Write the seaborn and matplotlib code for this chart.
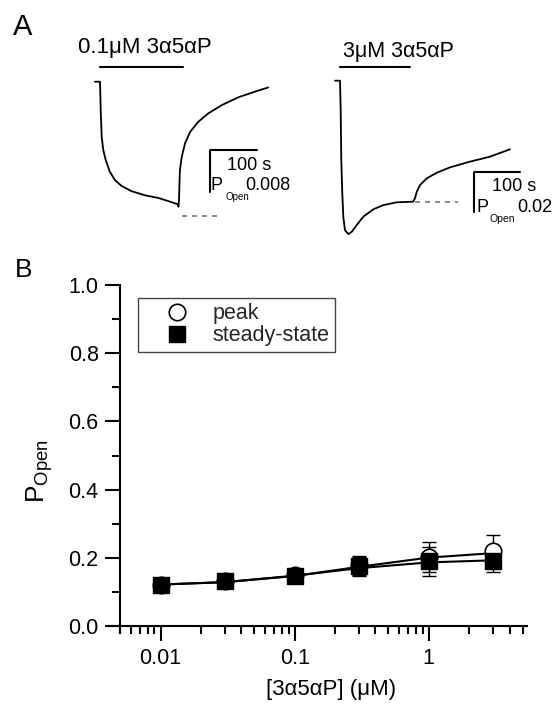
import numpy as np
import pandas as pd
import matplotlib
matplotlib.use('Agg')
import matplotlib.pyplot as plt
import seaborn as sns
from matplotlib.ticker import MultipleLocator, LogLocator, NullFormatter

# Panel A traces: time (s) and P_open change relative to baseline before drug
t_low = [-11, 0, 1.5, 3.6, 7, 12, 21, 32, 46, 67, 96, 124, 145, 165, 167, 168, 170, 174,
         181, 192, 209, 230, 259, 294, 330, 358]
p_low = [0, 0, -0.0054, -0.0106, -0.0131, -0.0150, -0.0173, -0.0189, -0.0200, -0.0210,
         -0.0218, -0.0223, -0.0229, -0.0235, -0.0240, -0.0227, -0.0170, -0.0144, -0.0118,
         -0.0096, -0.0077, -0.0061, -0.0045, -0.0030, -0.0019, -0.0011]
t_high = [-11, 0, 1.5, 2.8, 5, 7.2, 10.9, 18, 26, 36.5, 51, 73, 95, 124, 160, 164, 168,
          175, 190, 212, 241, 284, 328, 372]
p_high = [0, 0, -0.0147, -0.0397, -0.0563, -0.0680, -0.0747, -0.0767, -0.0755, -0.0722,
          -0.0680, -0.0643, -0.0622, -0.0608, -0.0605, -0.0588, -0.0555, -0.0522, -0.0488,
          -0.0460, -0.0433, -0.0405, -0.0380, -0.0343]
app_low = [0, 176]
app_high = [0, 153]
ss_low = -0.0258
ss_high = -0.0605

# Panel B concentration-response
conc = [0.01, 0.03, 0.1, 0.3, 1, 3]
peak_mean = [0.122, 0.131, 0.149, 0.178, 0.203, 0.221]
peak_sem = [0.008, 0.008, 0.010, 0.028, 0.044, 0.046]
ss_mean = [0.122, 0.131, 0.148, 0.176, 0.190, 0.190]
ss_sem = [0.008, 0.008, 0.010, 0.028, 0.043, 0.031]
peak_fit = [0.122, 0.129, 0.147, 0.174, 0.201, 0.214]
ss_fit = [0.122, 0.129, 0.148, 0.170, 0.187, 0.193]

sns.set_style('ticks')
plt.rcParams['font.family'] = ['Liberation Sans', 'DejaVu Sans']
plt.rcParams['mathtext.fontset'] = 'custom'
plt.rcParams['mathtext.rm'] = 'Liberation Sans'
plt.rcParams['mathtext.it'] = 'Liberation Sans:italic'

W, H = 553, 704
fig = plt.figure(figsize=(W / 100, H / 100), dpi=100)


def txt(x, y, s, **kw):
    # place text using pixel coords (origin top-left)
    return fig.text(x / W, 1 - y / H, s, color='black', **kw)


def trace_axes(box, origin, px_per_s, val_per_px):
    x0, y0, x1, y1 = box
    ox, oy = origin
    ax = fig.add_axes([x0 / W, 1 - y1 / H, (x1 - x0) / W, (y1 - y0) / H])
    ax.set_xlim((x0 - ox) / px_per_s, (x1 - ox) / px_per_s)
    ax.set_ylim(-(y1 - oy) * val_per_px, -(y0 - oy) * val_per_px)
    ax.axis('off')
    return ax


# ---- Panel A, left trace (0.1 uM)
sc_low = 0.008 / 41.7
axL = trace_axes((80, 30, 300, 240), (100, 81.7), 0.47, sc_low)
sns.lineplot(x=t_low, y=p_low, ax=axL, color='black', lw=1.3, sort=False, estimator=None)
axL.plot(app_low, [15 * sc_low] * 2, color='black', lw=1.5)
axL.plot([174, 259], [ss_low] * 2, color='#777777', lw=1.2, ls=(0, (3, 3)))
axL.plot([334, 234, 234], [-0.0131, -0.0131, -0.0211], color='black', lw=1.5)

# ---- Panel A, right trace (3 uM)
sc_high = 0.0005
axR = trace_axes((320, 30, 553, 240), (340, 80.7), 0.457, sc_high)
sns.lineplot(x=t_high, y=p_high, ax=axR, color='black', lw=1.3, sort=False, estimator=None)
axR.plot(app_high, [13.4 * sc_high] * 2, color='black', lw=1.5)
axR.plot([164, 259], [ss_high] * 2, color='#777777', lw=1.2, ls=(0, (3, 3)))
axR.plot([394, 294, 294], [-0.0455, -0.0455, -0.0655], color='black', lw=1.5)

txt(13, 35, 'A', fontsize=21, va='baseline')
txt(145, 53, '0.1\u03bcM 3\u03b15\u03b1P', fontsize=16, ha='center', va='baseline')
txt(398.5, 57, '3\u03bcM 3\u03b15\u03b1P', fontsize=15.5, ha='center', va='baseline')

txt(227, 166, '100 s', fontsize=13, va='center')
txt(211, 190, 'P', fontsize=13, va='baseline')
txt(225, 197, 'Open', fontsize=7, va='center')
txt(245, 190, '0.008', fontsize=13, va='baseline')

txt(492, 186.5, '100 s', fontsize=13, va='center')
txt(477, 212, 'P', fontsize=13, va='baseline')
txt(490, 219, 'Open', fontsize=7.5, va='center')
txt(517, 212, '0.02', fontsize=13, va='baseline')

# ---- Panel B
xl, xr, yt, yb = 108, 527, 285, 633
axB = fig.add_axes([xl / W, 1 - yb / H, (xr - xl) / W, (yb - yt) / H])
axB.set_xscale('log')
axB.set_xlim(0.00405, 5.4)
axB.set_ylim(-0.02, 1.0)

sns.lineplot(x=conc, y=peak_fit, ax=axB, color='black', lw=1.5, legend=False)
sns.lineplot(x=conc, y=ss_fit, ax=axB, color='black', lw=1.5, legend=False)
axB.errorbar(conc, peak_mean, yerr=peak_sem, fmt='none', ecolor='black', elinewidth=1,
             capsize=5, capthick=1, zorder=3)
axB.errorbar(conc, ss_mean, yerr=ss_sem, fmt='none', ecolor='black', elinewidth=1,
             capsize=5, capthick=1, zorder=3)
sns.scatterplot(x=conc, y=peak_mean, ax=axB, marker='o', s=140, color='white',
                edgecolor='black', linewidth=1.2, label='peak', zorder=4)
sns.scatterplot(x=conc, y=ss_mean, ax=axB, marker='s', s=120, color='black',
                edgecolor='black', linewidth=1, label='steady-state', zorder=5)

axB.spines[['top', 'right']].set_visible(False)
axB.spines['left'].set_position(('data', 0.005))
axB.spines['bottom'].set_position(('data', 0))
for s in ['left', 'bottom']:
    axB.spines[s].set_linewidth(1.5)
    axB.spines[s].set_color('black')

axB.set_yticks([0, 0.2, 0.4, 0.6, 0.8, 1.0], labels=['0.0', '0.2', '0.4', '0.6', '0.8', '1.0'])
axB.yaxis.set_minor_locator(MultipleLocator(0.1))
axB.set_xticks([0.01, 0.1, 1], labels=['0.01', '0.1', '1'])
axB.xaxis.set_minor_locator(LogLocator(base=10, subs=np.arange(2, 10)))
axB.xaxis.set_minor_formatter(NullFormatter())
axB.tick_params(which='major', direction='out', length=10.5, width=1.5, labelsize=15.5,
                pad=5, color='black', labelcolor='black')
axB.tick_params(which='minor', direction='out', length=6, width=1.5, color='black')

leg = axB.legend(loc='upper left', bbox_to_anchor=(138 / W, 1 - 298 / H),
                 bbox_transform=fig.transFigure, borderaxespad=0, frameon=True,
                 fancybox=False, edgecolor='#444444', framealpha=1, fontsize=15.5,
                 borderpad=0.25, handlelength=3.1, handletextpad=0.1, labelspacing=0.05,
                 scatteryoffsets=[0.5])
leg.get_frame().set_linewidth(1.0)

txt(15, 277, 'B', fontsize=19, va='baseline')
txt(40, 471, r'P$_{\mathrm{Open}}$', fontsize=19, rotation=90, ha='center', va='center')
txt(331, 695, '[3\u03b15\u03b1P] (\u03bcM)', fontsize=16, ha='center', va='baseline')

fig.savefig('out.png', dpi=100)
